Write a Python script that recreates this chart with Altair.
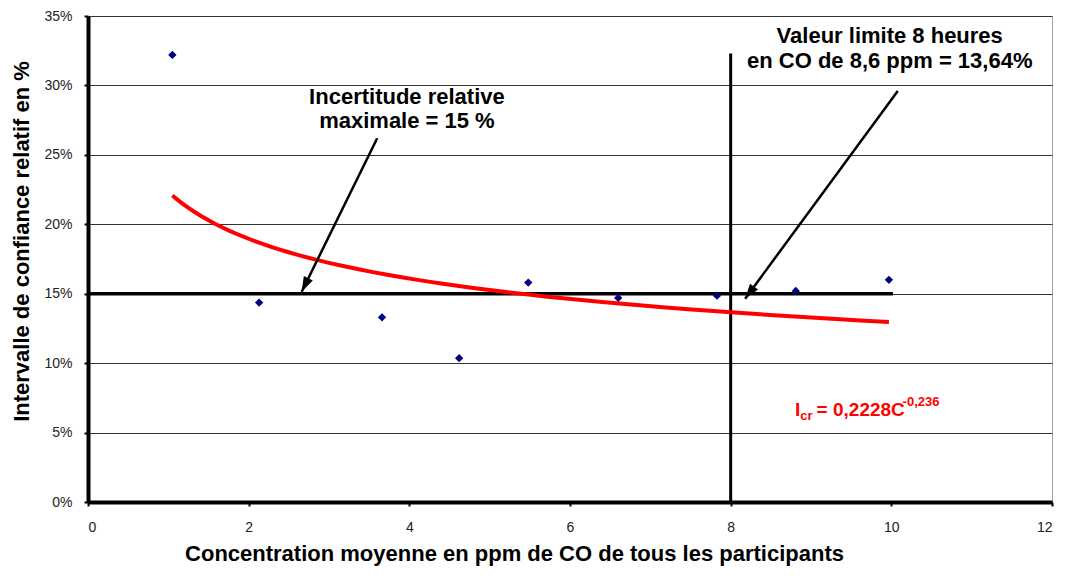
import altair as alt
import pandas as pd
import numpy as np

# ---- data ----
conc = [1.05, 2.13, 3.66, 4.62, 5.48, 6.60, 7.83, 8.81, 9.97]
icr = [0.322, 0.1436, 0.133, 0.1036, 0.158, 0.147, 0.1486, 0.152, 0.160]

x_ticks = [0, 2, 4, 6, 8, 10, 12]
y_ticks = [0, 0.05, 0.10, 0.15, 0.20, 0.25, 0.30, 0.35]

limit_x = [0, 10.02]
limit_y = [0.15, 0.15]
vline_x = [8, 8]
vline_y = [0, 0.323]

arrow_x_start = [3.60, 10.08]
arrow_y_start = [0.262, 0.296]
arrow_x_end = [2.66, 8.18]
arrow_y_end = [0.1514, 0.1464]

label1_text = ["Incertitude relative", "maximale = 15 %"]
label1_x = [3.97, 3.97]
label1_y = [0.292, 0.2745]
label2_text = ["Valeur limite 8 heures", "en CO de 8,6 ppm = 13,64%"]
label2_x = [9.98, 9.98]
label2_y = [0.3357, 0.3179]

formula_text = ["I", "cr", "= 0,2228C", "-0,236"]
formula_x = [8.80, 8.865, 9.07, 10.14]
formula_y = [0.0621, 0.0590, 0.0621, 0.0693]
formula_size = [19, 13, 19, 13]

W, H = 964, 486
FONT = "Liberation Sans"

xscale = alt.Scale(domain=[0, 12], nice=False, zero=True)
yscale = alt.Scale(domain=[0, 0.35], nice=False, zero=True)

xaxis = alt.Axis(
    values=x_ticks, title="Concentration moyenne en ppm de CO de tous les participants",
    grid=False, domainColor="black", domainWidth=4, tickColor="black", tickWidth=2,
    tickSize=4, labelPadding=14, labelFontSize=14, labelColor="#222",
    titleFontSize=22, titleFontWeight="bold", titleX=426, titleY=58,
    titleAlign="center", titleBaseline="alphabetic", titleColor="black",
)
yaxis = alt.Axis(
    values=y_ticks, format=".0%", title="Intervalle de confiance relatif en %",
    grid=True, gridColor="#333", gridWidth=1, domainColor="black", domainWidth=4,
    tickColor="black", tickWidth=2, tickSize=4, labelPadding=12, labelFontSize=14,
    labelColor="#222", titleFontSize=22, titleFontWeight="bold", titleX=-67,
    titleY=225, titleAngle=270, titleAlign="center", titleBaseline="middle",
    titleColor="black",
)


def X(f):
    return alt.X(f, type="quantitative", scale=xscale, axis=xaxis)


def Y(f):
    return alt.Y(f, type="quantitative", scale=yscale, axis=yaxis)


pts = pd.DataFrame({"x": conc, "y": icr})

points = alt.Chart(pts).mark_point(
    shape="diamond", filled=True, color="#000080", size=70, opacity=1
).encode(x=X("x"), y=Y("y"))

trend = alt.Chart(pts).transform_regression(
    "x", "y", method="pow"
).mark_line(color="#ff0000", strokeWidth=4).encode(x=X("x"), y=Y("y"))

hline = alt.Chart(pd.DataFrame({"x": limit_x, "y": limit_y})).mark_line(
    color="black", strokeWidth=3.5
).encode(x=X("x"), y=Y("y"))

vline = alt.Chart(pd.DataFrame({"x": vline_x, "y": vline_y})).mark_line(
    color="black", strokeWidth=3
).encode(x=X("x"), y=Y("y"))

# arrows
px_per_x = W / 12.0
px_per_y = H / 0.35
angles = []
for xs, ys, xe, ye in zip(arrow_x_start, arrow_y_start, arrow_x_end, arrow_y_end):
    dx = (xe - xs) * px_per_x
    dy = -(ye - ys) * px_per_y
    angles.append(float(np.degrees(np.arctan2(dx, -dy)) % 360))

arr = pd.DataFrame({
    "x": arrow_x_start, "y": arrow_y_start,
    "x2": arrow_x_end, "y2": arrow_y_end, "ang": angles,
})
arrow_lines = alt.Chart(arr).mark_rule(color="black", strokeWidth=2.5).encode(
    x=X("x"), y=Y("y"), x2="x2", y2="y2"
)
arrow_heads = alt.Chart(arr).mark_point(
    shape="M0,0 L-0.5,1.5 L0.5,1.5 Z", filled=True, color="black", size=400, opacity=1
).encode(x=X("x2"), y=Y("y2"), angle=alt.Angle("ang:Q", scale=None))

lab = pd.DataFrame({
    "t": label1_text + label2_text,
    "x": label1_x + label2_x,
    "y": label1_y + label2_y,
})
labels = alt.Chart(lab).mark_text(
    font=FONT, fontSize=22, fontWeight="bold", color="black",
    align="center", baseline="middle",
).encode(x=X("x"), y=Y("y"), text="t")

fdf = pd.DataFrame({"t": formula_text, "x": formula_x, "y": formula_y, "s": formula_size})
formula = alt.Chart(fdf).mark_text(
    font=FONT, fontWeight="bold", color="#ff0000", align="left", baseline="alphabetic"
).encode(x=X("x"), y=Y("y"), text="t", size=alt.Size("s:Q", scale=None, legend=None))

chart = alt.layer(
    hline, vline, trend, points, arrow_lines, arrow_heads, labels, formula
).properties(
    width=W, height=H,
    autosize=alt.AutoSizeParams(type="none"),
    padding={"left": 80, "top": 8, "right": 7, "bottom": 65},
).configure(
    font=FONT,
).configure_view(
    stroke="#a0a0a0", strokeWidth=1
).configure_axis(
    labelFont=FONT, titleFont=FONT
)

chart.save("out.html", embed_options={"renderer": "svg", "actions": False})
